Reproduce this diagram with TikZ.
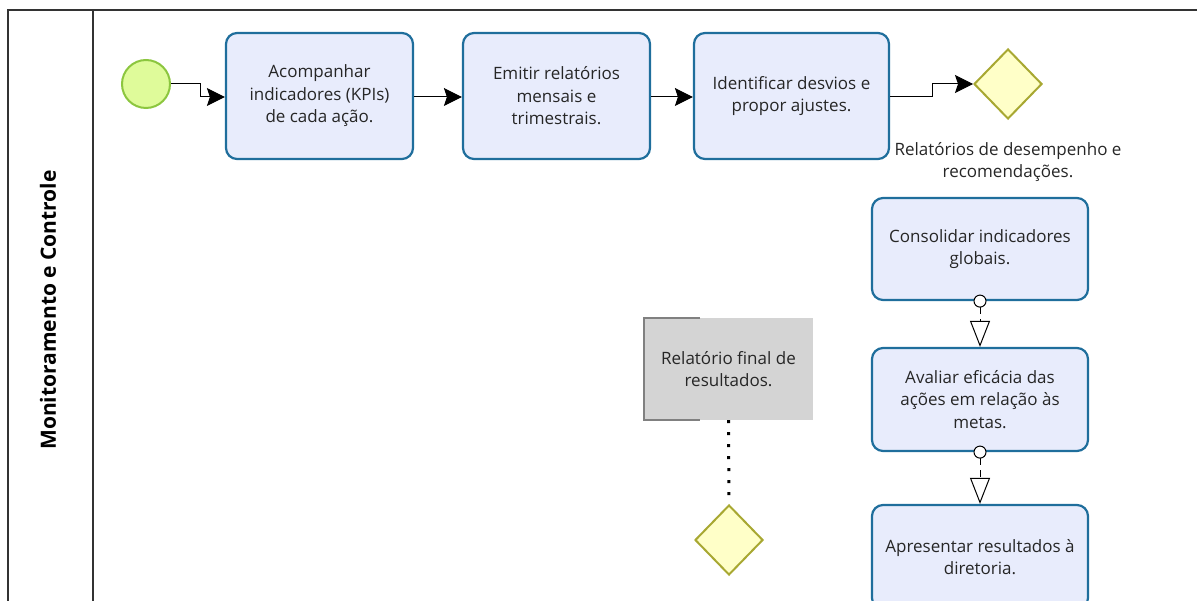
\documentclass[tikz,border=0pt]{standalone}
\usepackage{fontspec}
\setmainfont{Open Sans}
\usetikzlibrary{shapes.geometric,arrows.meta,positioning}

\definecolor{taskfill}{HTML}{E8ECFC}
\definecolor{taskline}{HTML}{1F6E9C}
\definecolor{startfill}{HTML}{DFFB9A}
\definecolor{startline}{HTML}{8CC63F}
\definecolor{gwfill}{HTML}{FFFFC8}
\definecolor{gwline}{HTML}{A8A832}
\definecolor{notefill}{HTML}{D4D4D4}

\tikzset{
  txt/.style={align=center, font=\fontsize{17}{22.5}\selectfont, text=black!85},
  task/.style={txt, draw=taskline, fill=taskfill, line width=2.2pt, rounded corners=11pt,
    minimum width=187pt, minimum height=126pt},
  gateway/.style={diamond, draw=gwline, fill=gwfill, line width=2pt,
    minimum width=68pt, minimum height=70pt, inner sep=0pt},
  flow/.style={line width=1pt, -{Stealth[length=18pt,width=18pt,inset=3pt]}},
  assoc/.style={line width=1pt, dash pattern=on 7pt off 5pt, shorten <=-6.5pt,
    {Circle[open,length=13pt,width=13pt,fill=white,line width=1pt]}-{Triangle[open,length=26pt,width=20pt,fill=white,line width=1pt]}},
}

\begin{document}
\begin{tikzpicture}[x=1pt,y=-1pt]
\useasboundingbox (0,0) rectangle (1197,601);
\clip (0,0) rectangle (1197,601);

% pool and lane
\draw[line width=1.6pt, black!80] (8,10) rectangle (1210,620);
\draw[line width=1.6pt, black!80] (93,10) -- (93,620);
\node[rotate=90, font=\fontsize{21}{22}\selectfont\bfseries] (lane) at (48,310) {Monitoramento e Controle};

% top row
\node[circle, draw=startline, fill=startfill, line width=2pt, minimum size=48pt, inner sep=0pt] (start) at (146,84) {};
\node[task] (acomp) at (319.5,96) {Acompanhar\\indicadores (KPIs)\\de cada ação.};
\node[task] (emitir) at (556.5,96) {Emitir relatórios\\mensais e\\trimestrais.};
\node[task, minimum width=195pt] (ident) at (791.5,96) {Identificar desvios e\\propor ajustes.};
\node[gateway] (gw1) at (1008,84) {};
\node[txt] (gw1lbl) at (1008,162) {Relatórios de desempenho e\\recomendações.};

\draw[flow] (start.east) -- (200,84) -- (200,97) -- (acomp.west |- 0,97);
\draw[flow] (acomp.east |- 0,97) -- (emitir.west |- 0,97);
\draw[flow] (emitir.east |- 0,97) -- (ident.west |- 0,97);
\draw[flow] (ident.east |- 0,97) -- (932,97) -- (932,84) -- (gw1.west);

% right column
\node[task, minimum width=216pt, minimum height=102pt] (consol) at (980,249) {Consolidar indicadores\\globais.};
\node[task, minimum width=216pt, minimum height=103pt] (avaliar) at (980,399.5) {Avaliar eficácia das\\ações em relação às\\metas.};
\node[task, minimum width=216pt, minimum height=104pt] (apres) at (980,557) {Apresentar resultados à\\diretoria.};

\draw[assoc] (consol.south) -- (avaliar.north);
\draw[assoc] (avaliar.south) -- (apres.north);

% annotation and second gateway
\node[txt, fill=notefill, minimum width=169pt, minimum height=102pt] (final) at (728.5,369) {Relatório final de\\resultados.};
\draw[black!50, line width=1.2pt] (700,318) -- (644,318) -- (644,420) -- (700,420);
\node[gateway] (gw2) at (729,540) {};
\draw[line width=3pt, dash pattern=on 3pt off 9pt] (final.south) -- (gw2.north);
\end{tikzpicture}
\end{document}
